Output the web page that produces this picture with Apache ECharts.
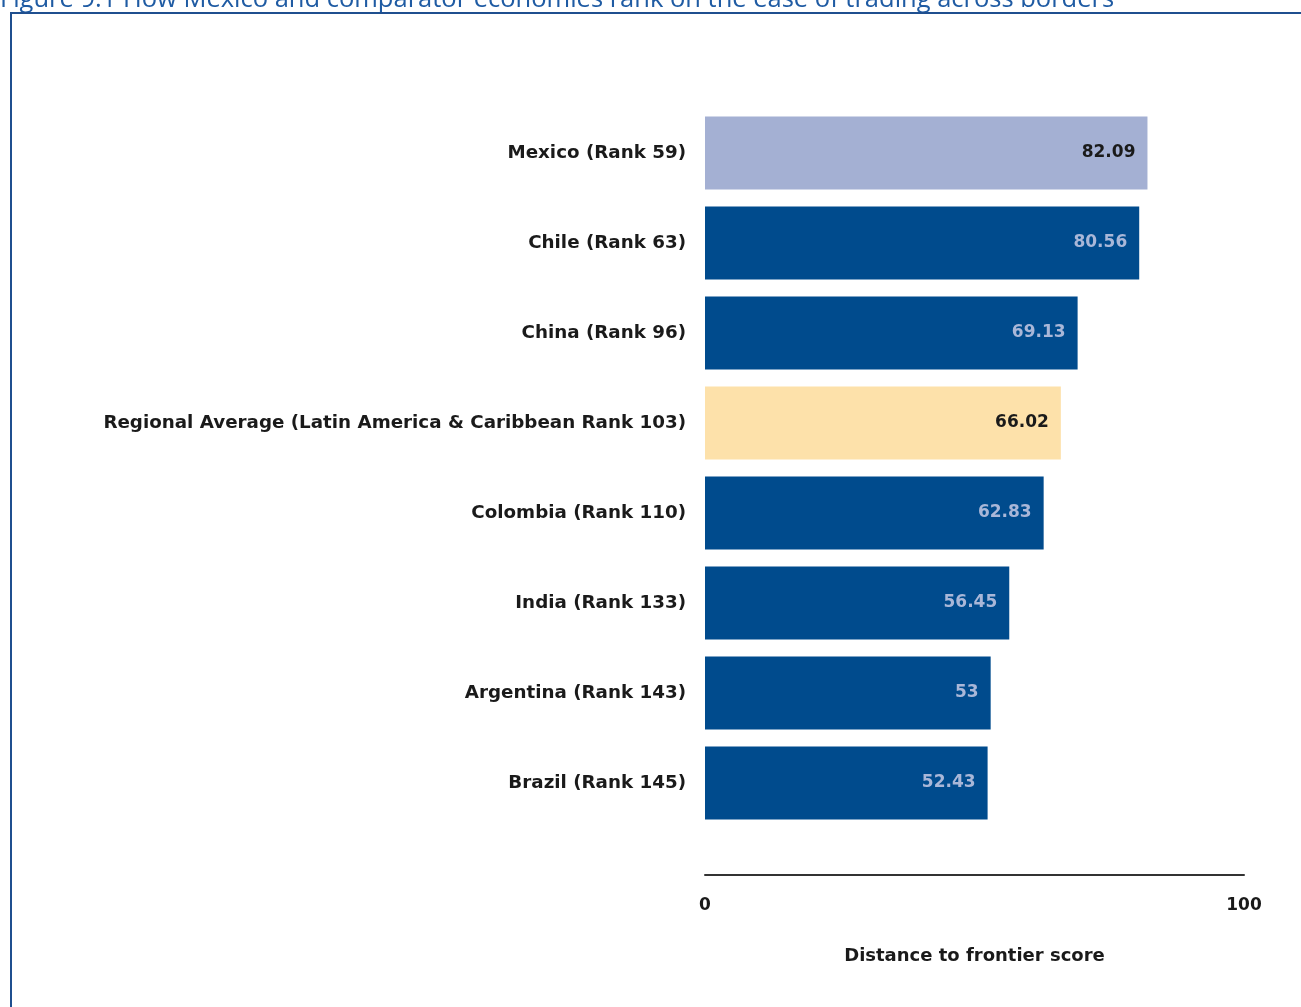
<!DOCTYPE html>
<html>
<head>
<meta charset="utf-8">
<script src="https://cdn.jsdelivr.net/npm/echarts@6/dist/echarts.min.js"></script>
<style>
  html, body { margin: 0; padding: 0; background: #ffffff; }
  #chart { width: 1301px; height: 1007px; }
</style>
</head>
<body>
<div id="chart"></div>
<script>
// Economies and their distance-to-frontier scores (top to bottom)
const economies = [
  'Mexico (Rank 59)',
  'Chile (Rank 63)',
  'China (Rank 96)',
  'Regional Average (Latin America & Caribbean Rank 103)',
  'Colombia (Rank 110)',
  'India (Rank 133)',
  'Argentina (Rank 143)',
  'Brazil (Rank 145)'
];
const scores = [82.09, 80.56, 69.13, 66.02, 62.83, 56.45, 53, 52.43];
const highlight = ['mexico', 'other', 'other', 'region', 'other', 'other', 'other', 'other'];
const axisTicks = [0, 100];

const palette = {
  mexico: { bar: '#a4b0d3', text: '#1a1a1a' },
  region: { bar: '#fde1aa', text: '#1a1a1a' },
  other:  { bar: '#004b8d', text: '#a9b7d8' }
};

const labelFont = '"DejaVu Sans", Verdana, sans-serif';

const data = scores.map((v, i) => ({
  value: v,
  itemStyle: { color: palette[highlight[i]].bar },
  label: { color: palette[highlight[i]].text }
}));

const chart = echarts.init(document.getElementById('chart'), null, { renderer: 'canvas' });

chart.setOption({
  animation: false,
  backgroundColor: '#ffffff',
  graphic: [
    {
      type: 'text',
      left: 0,
      top: -13,
      style: {
        text: 'Figure 9.1 How Mexico and comparator economies rank on the ease of trading across borders',
        font: '25.5px "Open Sans", sans-serif',
        fill: '#1f5ba3'
      }
    },
    {
      type: 'rect',
      shape: { x: 11, y: 13, width: 1400, height: 1100 },
      style: { fill: 'none', stroke: '#1f4f8f', lineWidth: 2 }
    }
  ],
  grid: { left: 705, right: 57, top: 108, height: 720, containLabel: false },
  xAxis: {
    type: 'value',
    min: 0,
    max: 100,
    interval: 100,
    offset: 47,
    axisLine: { show: true, lineStyle: { color: '#333333', width: 2 } },
    axisTick: { show: false },
    splitLine: { show: false },
    axisLabel: {
      margin: 22,
      fontFamily: labelFont,
      fontWeight: 'bold',
      fontSize: 17,
      color: '#1a1a1a',
      formatter: v => (axisTicks.includes(v) ? String(v) : '')
    },
    name: 'Distance to frontier score',
    nameLocation: 'middle',
    nameGap: 72,
    nameTextStyle: {
      fontFamily: labelFont,
      fontWeight: 'bold',
      fontSize: 18,
      color: '#1a1a1a'
    }
  },
  yAxis: {
    type: 'category',
    inverse: true,
    data: economies,
    axisLine: { show: false },
    axisTick: { show: false },
    axisLabel: {
      margin: 19,
      fontFamily: labelFont,
      fontWeight: 'bold',
      fontSize: 18.3,
      color: '#1a1a1a'
    }
  },
  series: [{
    type: 'bar',
    data: data,
    barCategoryGap: '19%',
    label: {
      show: true,
      position: 'insideRight',
      distance: 12,
      fontFamily: labelFont,
      fontWeight: 'bold',
      fontSize: 17,
      formatter: p => String(p.value)
    }
  }]
});
</script>
</body>
</html>
